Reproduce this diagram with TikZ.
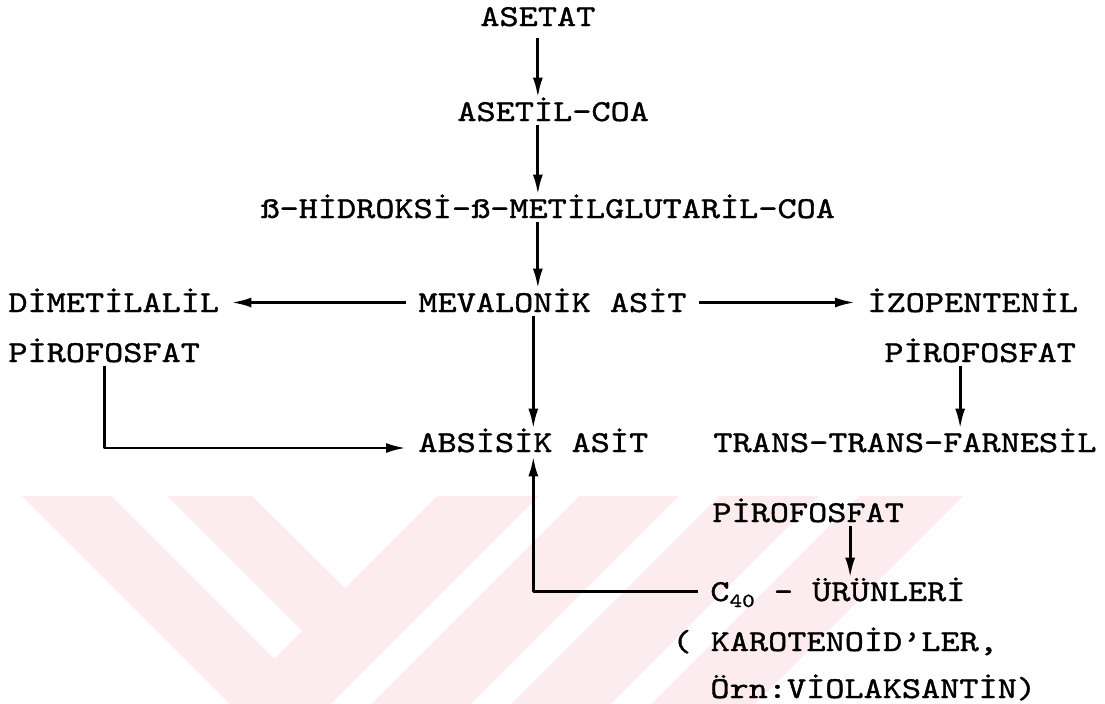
\documentclass[tikz,border=0pt]{standalone}
\usepackage{fontspec}
\usetikzlibrary{arrows.meta}
\newfontfamily\typew{lmmono10-regular.otf}[FakeStretch=1.2,FakeBold=1.2]

\begin{document}
\begin{tikzpicture}[x=0.5pt, y=-0.5pt, line join=round,
    lbl/.style={anchor=base west, inner xsep=6pt, inner ysep=2pt,
        text height=9.5pt, text depth=0pt,
        font=\typew\fontsize{15.2}{19}\selectfont},
    conn/.style={line width=1.4pt, -{Latex[length=10pt,width=5pt]}}]

    % Define custom colors
    \definecolor{wmpink}{RGB}{252, 236, 239}

    \useasboundingbox (0,0) rectangle (1105,703);

    % =======================================================
    % WATERMARK
    % =======================================================
    \begin{scope}
        \clip (0,496) rectangle (1105,703);
        \fill[wmpink] (22,496) -- (492.5,966.5) -- (963,496) -- (437,496)
            -- (345,588) -- (252,496) -- cycle;
        % white gaps
        \fill[white] (112,496) -- (167,496) -- (302,631) -- (274.5,658.5) -- cycle;
        \foreach \s in {1035,1175,1315} {
            \fill[white] (\s-496,496) -- (\s-456,496) -- (\s-856,896) -- (\s-896,896) -- cycle;
        }
    \end{scope}

    % =======================================================
    % MAIN CHAIN
    % =======================================================
    \node[lbl] (asetat) at (468,26) {ASETAT};
    \node[lbl] (asetil) at (445,121) {ASETİL-COA};
    \node[lbl] (beta) at (248,218) {ß-HİDROKSİ-ß-METİLGLUTARİL-COA};
    \node[lbl] (mev) at (406,312) {MEVALONİK ASİT};
    \node[lbl] (abs) at (406,452) {ABSİSİK ASİT};

    % Left branch
    \node[lbl] (dim) at (-4,312) {DİMETİLALİL};
    \node[lbl] (pirol) at (-4,362) {PİROFOSFAT};

    % Right branch
    \node[lbl] (izo) at (855,312) {İZOPENTENİL};
    \node[lbl] (piror) at (872,362) {PİROFOSFAT};
    \node[lbl] (trans) at (701,452) {TRANS-TRANS-FARNESİL};
    \node[lbl] (farpiro) at (700,522) {PİROFOSFAT};
    \node[lbl] (ckirk) at (698,601) {C\raisebox{-3pt}{\fontsize{10}{10}\selectfont 40} - ÜRÜNLERİ};
    \node[lbl] (karot) at (660,651) {( KAROTENOİD’LER,};
    \node[lbl] (viola) at (698,698) {Örn:VİOLAKSANTİN)};

    % =======================================================
    % ARROWS
    % =======================================================
    \draw[conn, shorten <=4pt] (asetat.south) -- (asetat.south |- asetil.north);
    \draw[conn] (asetat.south |- asetil.south) -- (asetat.south |- beta.north);
    \draw[conn] (asetat.south |- beta.south) -- (asetat.south |- mev.north);
    \draw[conn] (abs.north |- mev.south) -- (abs.north);

    \draw[conn] (mev.west) -- (dim.east);
    \draw[conn] (mev.east) -- (izo.west);
    \draw[conn] (pirol.south) |- ([yshift=2pt]abs.base west);

    \draw[conn] ([xshift=-10pt]piror.south) -- ([xshift=-10pt]piror.south |- trans.north);
    \draw[conn] ([xshift=21pt]farpiro.south) -- ([xshift=21pt]farpiro.south |- ckirk.north);
    \draw[conn] (ckirk.west) -| (abs.south);

\end{tikzpicture}
\end{document}
